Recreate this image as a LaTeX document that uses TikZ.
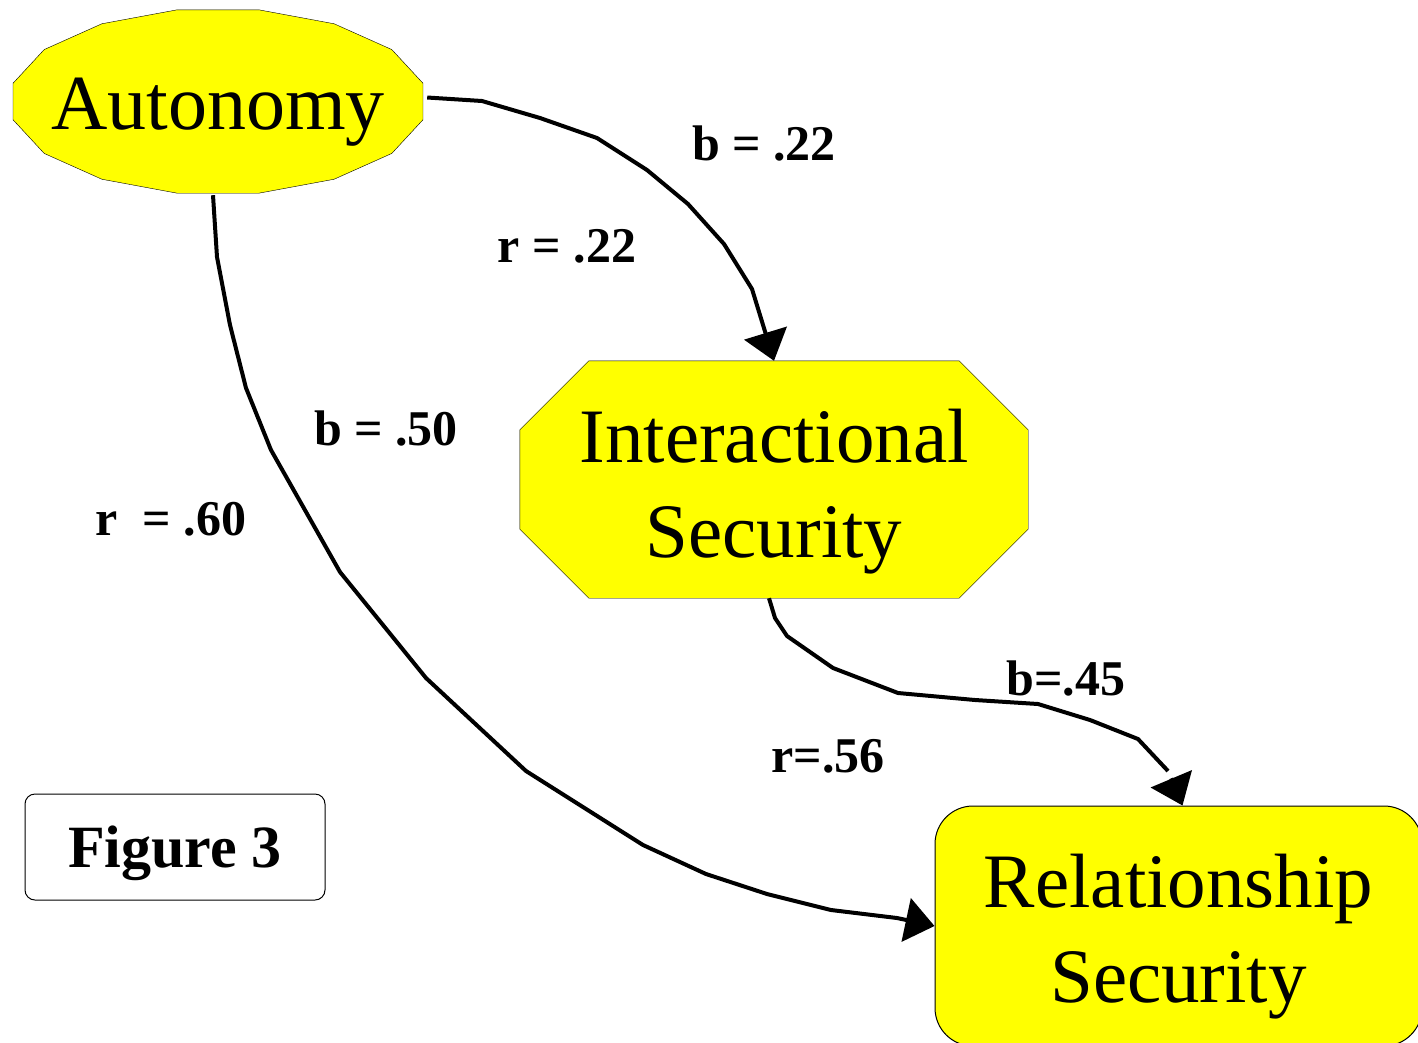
\documentclass[tikz,border=0pt]{standalone}
\usepackage{fontspec}
\setmainfont{Liberation Serif}
\usetikzlibrary{arrows.meta, backgrounds}

\definecolor{boxyellow}{RGB}{255,255,0}
\tikzset{
  construct/.style={inner sep=0pt, align=center, font=\fontsize{77}{95}\selectfont},
  weight/.style={anchor=base, inner sep=0pt, font=\fontsize{50}{60}\selectfont\bfseries},
  link/.style={line width=4pt, line join=round, -{Triangle[length=29pt, width=44pt]}},
}

\begin{document}
\begin{tikzpicture}[x=1pt, y=-1pt]
  \useasboundingbox (0,0) rectangle (1418,1042);
  % constructs
  \node[construct, minimum width=418, minimum height=187, text height=72, text depth=17,
        font=\fontsize{78}{95}\selectfont] (auto) at (218,101.5) {Autonomy};
  \node[construct, minimum width=508, minimum height=237, text height=170, text depth=15]
    (inter) at (774,479.5) {Interactional\\Security};
  \node[construct, draw, fill=boxyellow, line width=1pt, rounded corners=38pt,
        minimum width=487, minimum height=240, text height=168, text depth=16]
    (rel) at (1178.5,926) {Relationship\\Security};
  \node[draw, line width=1pt, rounded corners=10pt, inner sep=0pt, minimum width=300,
        minimum height=106, text height=53, text depth=13,
        font=\fontsize{60}{72}\selectfont\bfseries] (fig) at (175,847) {Figure 3};

  % 16-gon and octagon behind the text
  \begin{scope}[on background layer, line width=1pt]
    \filldraw[fill=boxyellow, shift={(auto.center)}]
      plot[samples=17, domain=11.25:371.25] ({209*cos(\x)}, {93.5*sin(\x)}) -- cycle;
    \filldraw[fill=boxyellow] ([xshift=69pt]inter.north west) -- ([xshift=-69pt]inter.north east)
      -- ([yshift=-69pt]inter.north east) -- ([yshift=69pt]inter.south east)
      -- ([xshift=-69pt]inter.south east) -- ([xshift=69pt]inter.south west)
      -- ([yshift=69pt]inter.south west) -- ([yshift=-69pt]inter.north west) -- cycle;
  \end{scope}

  % paths
  \draw[link] ([yshift=4pt]auto.east) -- (482,101) -- (540,118) -- (597,138) -- (647,170)
    -- (688,204) -- (724,244) -- (752,289) -- (inter.north);
  \draw[link] ([xshift=-5pt]auto.south) -- (217,257) -- (230,325) -- (246,388)
    -- (271,450) -- (340,572) -- (426,678) -- (526,771) -- (643,845) -- (706,874)
    -- (767,894) -- (831,910) -- (897,918) -- (rel.west);
  \coordinate (bend) at (1168,771);
  \draw[line width=4pt, line join=round] ([xshift=-5pt]inter.south) -- (775,618)
    -- (787,636) -- (833,668) -- (898,693) -- (975,700) -- (1038,704) -- (1090,720)
    -- (1138,739) -- (bend);
  \draw[link, shorten <=8pt] (bend) -- ([xshift=4pt]rel.north);

  % coefficients
  \node[weight] (b-int) at (764,160) {b = .22};
  \node[weight] (r-int) at (567,262) {r = .22};
  \node[weight] (b-rel) at (386,445) {b = .50};
  \node[weight] (r-rel) at (171,535) {r~ = .60};
  \node[weight] (b-ir) at (1066,695) {b=.45};
  \node[weight] (r-ir) at (828,772) {r=.56};
\end{tikzpicture}
\end{document}
